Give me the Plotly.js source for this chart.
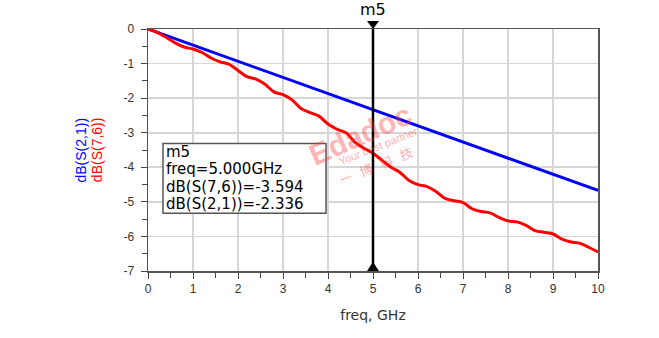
<!DOCTYPE html>
<html>
<head>
<meta charset="utf-8">
<script src="https://cdn.plot.ly/plotly-3.0.1.min.js"></script>
<style>html,body{margin:0;padding:0;background:#fff;}#chart{width:659px;height:338px;}</style>
</head>
<body>
<div id="chart"></div>
<script>
// ---- data ----
const freqBlue = [0, 1, 2, 3, 4, 5, 6, 7, 8, 9, 10];
const dbS21 = [0, -0.467, -0.934, -1.401, -1.868, -2.336, -2.803, -3.27, -3.737, -4.204, -4.67];

const freqRed = [0, 0.2, 0.4, 0.6, 0.8, 1.0, 1.2, 1.4, 1.6, 1.8, 2.0, 2.2, 2.4, 2.6, 2.8, 3.0,
  3.2, 3.4, 3.6, 3.8, 4.0, 4.2, 4.4, 4.6, 4.8, 5.0, 5.2, 5.4, 5.6, 5.8, 6.0, 6.2, 6.4, 6.6,
  6.8, 7.0, 7.2, 7.4, 7.6, 7.8, 8.0, 8.2, 8.4, 8.6, 8.8, 9.0, 9.2, 9.4, 9.6, 9.8, 10.0];
const dbS76 = [0, -0.1, -0.24, -0.4, -0.52, -0.58, -0.68, -0.84, -0.95, -1.02, -1.2, -1.38,
  -1.45, -1.6, -1.82, -1.9, -2.05, -2.3, -2.42, -2.52, -2.75, -2.9, -3.0, -3.28, -3.45, -3.594,
  -3.8, -4.0, -4.15, -4.38, -4.5, -4.56, -4.7, -4.9, -4.97, -5.02, -5.2, -5.28, -5.32, -5.45,
  -5.55, -5.58, -5.68, -5.83, -5.88, -5.93, -6.08, -6.16, -6.2, -6.32, -6.45];

const markerName = "m5";
const markerFreq = 5;
const markerS76 = -3.594;
const markerS21 = -2.336;
const yTicks = [0, -1, -2, -3, -4, -5, -6, -7];
const xTicks = [0, 1, 2, 3, 4, 5, 6, 7, 8, 9, 10];
const xRange = [0, 10];
const yRange = [-7, 0];

const F = "Arial, 'Liberation Sans', sans-serif";
const FW = "'DejaVu Sans', sans-serif";

const traces = [
  {x: freqBlue, y: dbS21, mode: "lines", line: {color: "#0000ff", width: 3}, hoverinfo: "skip"},
  {x: freqRed, y: dbS76, mode: "lines", line: {color: "#ff0000", width: 3, shape: "spline", smoothing: 1}, hoverinfo: "skip"}
];

const axisCommon = {
  showline: true, mirror: true, linecolor: "#555", linewidth: 1.5,
  showgrid: true, gridcolor: "#d6d6d6", gridwidth: 1.6,
  zeroline: false, ticks: "outside", ticklen: 6, tickcolor: "#444", tickwidth: 1,
  tickfont: {family: F, size: 12, color: "#333"},
  minor: {dtick: 0.5, ticks: "outside", ticklen: 5, tickcolor: "#444", showgrid: false}
};

const mxPaper = (markerFreq - xRange[0]) / (xRange[1] - xRange[0]);
const boxLines = [
  markerName,
  "freq=" + markerFreq.toFixed(3) + "GHz",
  "dB(S(7,6))=" + markerS76.toFixed(3),
  "dB(S(2,1))=" + markerS21.toFixed(3)
];
const boxAnn = boxLines.map((t, i) => ({
  xref: "x", yref: "y", x: 0.36, y: -3.55 - i * 0.505, xanchor: "left", yanchor: "middle",
  showarrow: false, text: t,
  font: {family: FW, size: 15, color: "#000"}
}));

const layout = {
  width: 659, height: 338,
  margin: {l: 148, r: 61, t: 29, b: 67},
  paper_bgcolor: "#fff", plot_bgcolor: "#fff",
  showlegend: false,
  xaxis: Object.assign({}, axisCommon, {range: xRange, tickvals: xTicks, ticktext: xTicks.map(String),
    title: {text: "freq, GHz", font: {family: FW, size: 14, color: "#333"}, standoff: 15}}),
  yaxis: Object.assign({}, axisCommon, {range: yRange, tickvals: yTicks, ticktext: yTicks.map(String), ticklabelstandoff: 4}),
  shapes: [
    {type: "line", xref: "x", yref: "y", x0: markerFreq, x1: markerFreq, y0: yRange[0], y1: yRange[1],
     line: {color: "#000", width: 2.5}},
    {type: "rect", xref: "x", yref: "y", x0: 0.333, x1: 3.956, y0: -3.315, y1: -5.33,
     fillcolor: "#fff", line: {color: "#555", width: 1.5}, layer: "above"},
    {type: "path", xref: "paper", yref: "paper", xsizemode: "pixel", ysizemode: "pixel",
     xanchor: mxPaper, yanchor: 1, path: "M -6 8 L 6 8 L 0 0 Z", fillcolor: "#000", line: {width: 0}},
    {type: "path", xref: "paper", yref: "paper", xsizemode: "pixel", ysizemode: "pixel",
     xanchor: mxPaper, yanchor: 0, path: "M -6 0 L 6 0 L 0 9 Z", fillcolor: "#000", line: {width: 0}}
  ],
  annotations: [
    {xref: "paper", yref: "paper", x: mxPaper, y: 1, yshift: 8, yanchor: "bottom", showarrow: false,
     text: markerName, font: {family: FW, size: 16, color: "#000"}},
    {xref: "paper", yref: "paper", x: -0.15, y: 0.5, showarrow: false, textangle: -90,
     xanchor: "center", yanchor: "middle",
     text: "dB(S(2,1))", font: {family: F, size: 14, color: "#0000ff"}},
    {xref: "paper", yref: "paper", x: -0.113, y: 0.5, showarrow: false, textangle: -90,
     xanchor: "center", yanchor: "middle",
     text: "dB(S(7,6))", font: {family: F, size: 14, color: "#ff0000"}},
    {xref: "x", yref: "y", x: 4.72, y: -3.05, showarrow: false, textangle: -24,
     text: "<b>Edadoc</b>", font: {family: F, size: 30, color: "rgba(255,60,60,0.38)"}},
    {xref: "x", yref: "y", x: 5.12, y: -3.38, showarrow: false, textangle: -22,
     text: "Your best partner", font: {family: F, size: 11, color: "rgba(255,60,60,0.45)"}},
    {xref: "x", yref: "y", x: 5.07, y: -3.95, showarrow: false, textangle: -22,
     text: "一   博   科   技", font: {family: "'Noto Sans CJK SC'", size: 13, color: "rgba(255,60,60,0.45)"}}
  ].concat(boxAnn)
};

Plotly.newPlot("chart", traces, layout, {staticPlot: true, displayModeBar: false});
</script>
</body>
</html>
